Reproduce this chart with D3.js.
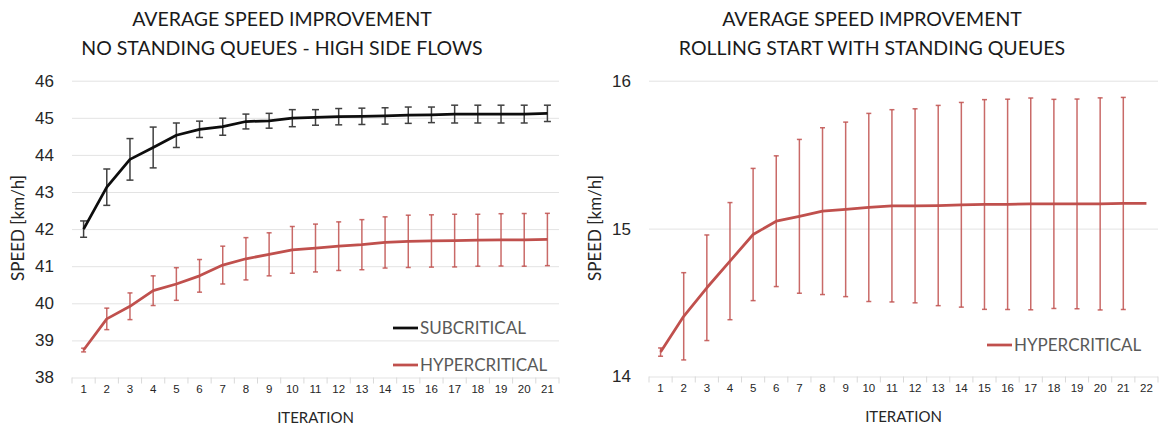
<!DOCTYPE html>
<html>
<head>
<meta charset="utf-8">
<script src="https://cdn.jsdelivr.net/npm/d3@7"></script>
<style>
    body { margin: 0; background: #fff; }
    svg { display: block; font-family: Lato, 'Liberation Sans', sans-serif; }
    .grid line { stroke: #e3e3e3; stroke-width: 1; }
    .grid .domain { display: none; }
    .axis-y text { fill: #262626; font-size: 17px; }
    .axis-x text { fill: #262626; font-size: 11.5px; }
    .tickmark { stroke: #d9d9d9; stroke-width: 1; }
    .legend text { fill: #595959; font-size: 17px; }
    .title { fill: #1a1a1a; font-size: 19.5px; }
    .label { fill: #262626; }
</style>
</head>
<body>
<div id="chart"></div>
<script>
// data
const iterLeft = [1,2,3,4,5,6,7,8,9,10,11,12,13,14,15,16,17,18,19,20,21];
const subMean = [42.0, 43.13, 43.88, 44.2, 44.53, 44.69, 44.76, 44.9, 44.92, 44.99, 45.01,
    45.03, 45.04, 45.05, 45.07, 45.08, 45.1, 45.1, 45.1, 45.1, 45.12];
const subErr = [0.22, 0.49, 0.56, 0.55, 0.33, 0.22, 0.23, 0.2, 0.2, 0.23, 0.21,
    0.22, 0.22, 0.22, 0.22, 0.21, 0.24, 0.24, 0.24, 0.24, 0.22];
const hypLeftMean = [38.74, 39.58, 39.92, 40.34, 40.52, 40.74, 41.03, 41.2, 41.32, 41.44, 41.49,
    41.54, 41.58, 41.64, 41.67, 41.68, 41.69, 41.7, 41.71, 41.71, 41.72];
const hypLeftErr = [0.05, 0.29, 0.36, 0.4, 0.44, 0.44, 0.51, 0.57, 0.58, 0.63, 0.645,
    0.655, 0.675, 0.69, 0.705, 0.705, 0.71, 0.7, 0.705, 0.71, 0.705];

const iterRight = [1,2,3,4,5,6,7,8,9,10,11,12,13,14,15,16,17,18,19,20,21,22];
const hypRightMean = [14.165, 14.407, 14.6, 14.78, 14.96, 15.05, 15.083, 15.118, 15.13, 15.143, 15.154,
    15.154, 15.156, 15.161, 15.163, 15.164, 15.167, 15.167, 15.167, 15.167, 15.17, 15.17];
const hypRightErr = [0.028, 0.295, 0.357, 0.396, 0.447, 0.442, 0.52, 0.564, 0.59, 0.636, 0.65,
    0.656, 0.677, 0.692, 0.709, 0.711, 0.716, 0.707, 0.709, 0.717, 0.717, null];

const leftTicks = [38,39,40,41,42,43,44,45,46];
const rightTicks = [14,15,16];

const RED = '#c0504d';
const BLACK = '#0d0d0d';

const svg = d3.select('#chart').append('svg')
    .attr('width', 1160)
    .attr('height', 425);

// one panel: band x axis, linear y axis, lines with error bars
function panel(cfg) {
    const x = d3.scaleBand()
        .domain(cfg.iters)
        .range([cfg.x0, cfg.x1]);
    const y = d3.scaleLinear()
        .domain(cfg.yDomain)
        .range([cfg.y0, cfg.y1]);

    const g = svg.append('g');

    // gridlines
    g.append('g')
        .attr('class', 'grid')
        .attr('transform', `translate(${cfg.x0},0)`)
        .call(d3.axisLeft(y).tickValues(cfg.yTicks).tickSize(-(cfg.x1 - cfg.x0)).tickFormat(''));

    // y labels
    g.append('g')
        .attr('class', 'axis-y')
        .attr('transform', `translate(${cfg.x0 - 18},0)`)
        .call(d3.axisLeft(y).tickValues(cfg.yTicks).tickFormat(d3.format('d')).tickSize(0).tickPadding(0))
        .call(s => s.select('.domain').remove());

    // x labels
    g.append('g')
        .attr('class', 'axis-x')
        .attr('transform', `translate(0,${cfg.y0 + 11})`)
        .call(d3.axisBottom(x).tickSize(0).tickPadding(0))
        .call(s => s.select('.domain').remove())
        .selectAll('text').attr('dy', '0.35em');

    // tick marks between categories
    const bounds = cfg.iters.map(d => x(d)).concat([cfg.x1]);
    g.selectAll('.tickmark')
        .data(bounds)
        .join('line')
        .attr('class', 'tickmark')
        .attr('x1', d => d).attr('x2', d => d)
        .attr('y1', cfg.y0).attr('y2', cfg.y0 + 6);

    const cx = d => x(d) + x.bandwidth() / 2;

    cfg.series.forEach(s => {
        const pts = cfg.iters.map((it, i) => ({it, m: s.mean[i], e: s.err[i]}));

        // error bars
        const eb = g.append('g')
            .attr('stroke', s.errColor)
            .attr('stroke-width', 1.5)
            .attr('stroke-opacity', s.errOpacity);
        const withErr = pts.filter(p => p.e != null);
        eb.selectAll('.v')
            .data(withErr)
            .join('line')
            .attr('x1', p => cx(p.it)).attr('x2', p => cx(p.it))
            .attr('y1', p => y(p.m - p.e)).attr('y2', p => y(p.m + p.e));
        [1, -1].forEach(sign => {
            eb.selectAll('.cap' + sign)
                .data(withErr)
                .join('line')
                .attr('x1', p => cx(p.it) - s.cap).attr('x2', p => cx(p.it) + s.cap)
                .attr('y1', p => y(p.m + sign * p.e))
                .attr('y2', p => y(p.m + sign * p.e));
        });

        // line
        g.append('path')
            .datum(pts)
            .attr('fill', 'none')
            .attr('stroke', s.color)
            .attr('stroke-width', 2.75)
            .attr('stroke-linejoin', 'round')
            .attr('d', d3.line().x(p => cx(p.it)).y(p => y(p.m)));

        // legend entry
        const lg = g.append('g').attr('class', 'legend');
        lg.append('line')
            .attr('x1', s.legend[0]).attr('x2', s.legend[0] + 25)
            .attr('y1', s.legend[1]).attr('y2', s.legend[1])
            .attr('stroke', s.color).attr('stroke-width', 2.75);
        lg.append('text')
            .attr('x', s.legend[0] + 27)
            .attr('y', s.legend[1])
            .attr('dy', '0.35em')
            .text(s.name);
    });

    // titles
    cfg.title.forEach((t, i) => {
        g.append('text')
            .attr('class', 'title')
            .attr('x', cfg.titleX)
            .attr('y', 26 + i * 28.5)
            .attr('text-anchor', 'middle')
            .text(t);
    });

    g.append('text')
        .attr('class', 'label')
        .attr('font-size', 15)
        .attr('x', (cfg.x0 + cfg.x1) / 2)
        .attr('y', cfg.y0 + 45)
        .attr('text-anchor', 'middle')
        .text('ITERATION');

    g.append('text')
        .attr('class', 'label')
        .attr('font-size', 17)
        .attr('transform', `translate(${cfg.yLabelX},228) rotate(-90)`)
        .attr('text-anchor', 'middle')
        .attr('dy', '0.35em')
        .text('SPEED [km/h]');
}

panel({
    iters: iterLeft,
    x0: 72, x1: 559, y0: 377.5, y1: 80.7,
    yDomain: [38, 46], yTicks: leftTicks,
    title: ['AVERAGE SPEED IMPROVEMENT', 'NO STANDING QUEUES - HIGH SIDE FLOWS'],
    titleX: 282,
    yLabelX: 18,
    series: [
        {name: 'SUBCRITICAL', mean: subMean, err: subErr, color: BLACK,
            errColor: '#404040', errOpacity: 1, cap: 3.5, legend: [393, 328]},
        {name: 'HYPERCRITICAL', mean: hypLeftMean, err: hypLeftErr, color: RED,
            errColor: RED, errOpacity: 0.85, cap: 2.5, legend: [393, 365]}
    ]
});

panel({
    iters: iterRight,
    x0: 649, x1: 1158, y0: 376.5, y1: 80.7,
    yDomain: [14, 16], yTicks: rightTicks,
    title: ['AVERAGE SPEED IMPROVEMENT', 'ROLLING START WITH STANDING QUEUES'],
    titleX: 872,
    yLabelX: 595,
    series: [
        {name: 'HYPERCRITICAL', mean: hypRightMean, err: hypRightErr, color: RED,
            errColor: RED, errOpacity: 0.85, cap: 2.5, legend: [987, 345]}
    ]
});
</script>
</body>
</html>
